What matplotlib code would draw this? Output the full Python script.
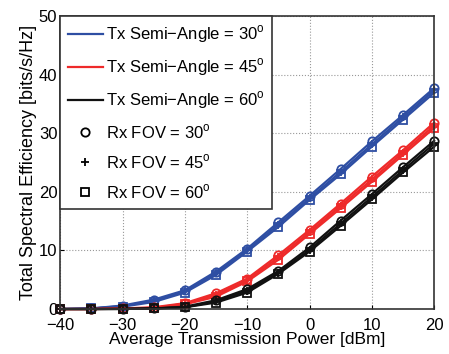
import numpy as np
import matplotlib
matplotlib.use("Agg")
import matplotlib.pyplot as plt
from matplotlib.lines import Line2D

plt.rcParams['font.family'] = ['Liberation Sans', 'DejaVu Sans']
plt.rcParams['mathtext.fontset'] = 'custom'
plt.rcParams['mathtext.rm'] = 'Liberation Sans'

power = [-40, -35, -30, -25, -20, -15, -10, -5, 0, 5, 10, 15, 20]

# Tx semi-angle 30
tx30_fov30 = [0, 0.1, 0.6, 1.6, 3.2, 6.4, 10.3, 14.8, 19.3, 23.9, 28.6, 33.1, 37.7]
tx30_fov45 = [0, 0.1, 0.5, 1.4, 3.0, 6.1, 10.0, 14.4, 18.9, 23.4, 28.1, 32.7, 37.3]
tx30_fov60 = [0, 0.1, 0.4, 1.2, 2.8, 5.8, 9.8, 14.0, 18.6, 23.0, 27.7, 32.3, 36.9]
# Tx semi-angle 45
tx45_fov30 = [0, 0.0, 0.1, 0.3, 1.0, 2.7, 5.2, 9.2, 13.5, 18.0, 22.6, 27.1, 31.8]
tx45_fov45 = [0, 0.0, 0.1, 0.2, 0.9, 2.4, 4.9, 8.8, 13.1, 17.6, 22.1, 26.7, 31.3]
tx45_fov60 = [0, 0.0, 0.05, 0.2, 0.8, 2.1, 4.7, 8.4, 12.8, 17.2, 21.7, 26.3, 30.9]
# Tx semi-angle 60
tx60_fov30 = [0, 0.0, 0.02, 0.1, 0.4, 1.5, 3.4, 6.5, 10.5, 15.1, 19.6, 24.2, 28.7]
tx60_fov45 = [0, 0.0, 0.02, 0.1, 0.3, 1.3, 3.1, 6.2, 10.1, 14.6, 19.1, 23.7, 28.2]
tx60_fov60 = [0, 0.0, 0.01, 0.1, 0.3, 1.1, 2.8, 6.0, 9.8, 14.2, 18.7, 23.3, 27.7]

colors = ['#2e4ea3', '#ee2a2a', '#111111']
tx_labels = ['Tx Semi\u2212Angle = 30$^\\mathrm{o}$',
             'Tx Semi\u2212Angle = 45$^\\mathrm{o}$',
             'Tx Semi\u2212Angle = 60$^\\mathrm{o}$']
fov_labels = ['Rx FOV = 30$^\\mathrm{o}$',
              'Rx FOV = 45$^\\mathrm{o}$',
              'Rx FOV = 60$^\\mathrm{o}$']
markers = ['o', '+', 's']

groups = [[tx30_fov30, tx30_fov45, tx30_fov60],
          [tx45_fov30, tx45_fov45, tx45_fov60],
          [tx60_fov30, tx60_fov45, tx60_fov60]]

fig = plt.figure(figsize=(4.49, 3.54), dpi=100)
ax = fig.add_axes([0.134, 0.127, 0.833, 0.828])

for c, grp in zip(colors, groups):
    for m, ys in zip(markers, grp):
        ax.plot(power, ys, color=c, lw=1.6, marker=m, markersize=6,
                markerfacecolor='none', markeredgewidth=1.3, clip_on=False)

ax.set_xlim(-40, 20)
ax.set_ylim(0, 50)
ax.set_xticks([-40, -30, -20, -10, 0, 10, 20])
ax.set_xticklabels(['\u221240', '\u221230', '\u221220', '\u221210', '0', '10', '20'])
ax.set_yticks([0, 10, 20, 30, 40, 50])
ax.grid(True, linestyle=':', color='#999999', lw=0.8)
ax.tick_params(labelsize=12, direction='in', length=3)
ax.tick_params(axis='x', pad=6.5)
ax.tick_params(axis='y', pad=2)
for s in ax.spines.values():
    s.set_color('#333333')
    s.set_linewidth(1.2)
ax.set_xlabel('Average Transmission Power [dBm]', fontsize=12.5, labelpad=-1)
ax.set_ylabel('Total Spectral Efficiency [bits/s/Hz]', fontsize=13, labelpad=1)

handles = [Line2D([], [], color=c, lw=1.6) for c in colors]
handles += [Line2D([], [], color='black', lw=0, marker=m, markersize=6,
                   markerfacecolor='none', markeredgewidth=1.3) for m in markers]
leg = ax.legend(handles, tx_labels + fov_labels, loc='upper left', fontsize=12,
                frameon=True, fancybox=False, edgecolor='#333333', framealpha=1,
                handlelength=2.1, handletextpad=0.2, labelspacing=0.68,
                borderaxespad=0, borderpad=0.45)
leg.get_frame().set_linewidth(1.2)

fig.savefig('out.png', dpi=100)
